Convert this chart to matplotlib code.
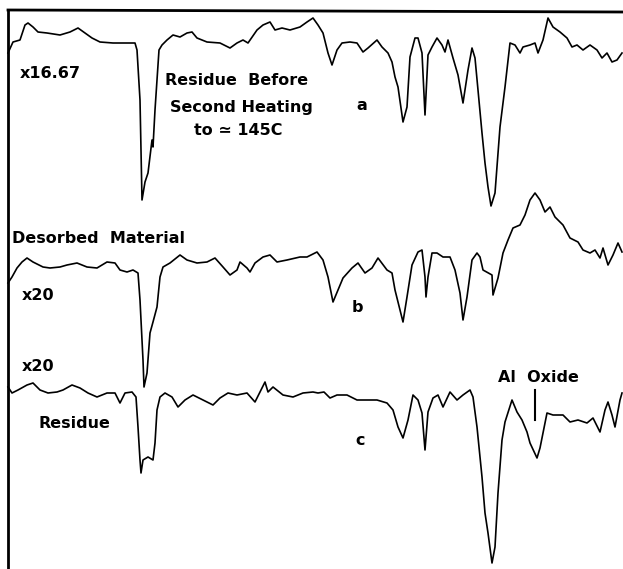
import matplotlib
matplotlib.use("Agg")
import matplotlib.pyplot as plt

# Traces (x = scan position, y = pen position, down is positive)
a_x = [8, 13, 20, 25, 28, 33, 38, 47, 60, 70, 78, 85, 92, 100, 113, 127, 135,
       137, 140, 142, 145, 148, 152, 153, 155, 159, 162,
       167, 173, 180, 187, 192, 197, 207, 220, 230, 237, 243, 248, 257, 263, 270, 275, 282, 290, 300,
       307, 313, 318, 323, 328, 332, 337, 342, 350, 357, 363, 368, 377, 382, 388, 392, 395, 398,
       403, 407, 410, 415, 418, 422, 425, 428, 432, 437, 442, 445, 448, 453, 458, 463, 468, 472,
       475, 478, 482, 485, 488, 491, 495, 500, 505, 510, 515, 520, 523, 530, 535, 538, 543, 548,
       553, 560, 567, 572, 577, 583, 590, 597, 602, 607, 612, 617, 622]
a_y = [53, 42, 40, 25, 23, 27, 32, 33, 35, 32, 28, 33, 38, 42, 43, 43, 43,
       50, 100, 200, 182, 173, 140, 147, 110, 50, 45,
       40, 35, 37, 33, 32, 38, 42, 43, 48, 43, 40, 43, 30, 25, 22, 30, 28, 30, 27,
       22, 18, 25, 33, 53, 65, 50, 43, 42, 43, 52, 48, 40, 47, 53, 62, 77, 87,
       122, 107, 57, 38, 38, 53, 115, 55, 47, 38, 45, 52, 40, 58, 75, 103, 70, 48,
       58, 90, 133, 163, 187, 206, 193, 127, 87, 43, 45, 53, 47, 45, 43, 53, 40, 18,
       27, 32, 38, 47, 45, 50, 45, 50, 58, 53, 62, 60, 53]

b_x = [8, 12, 17, 22, 27, 33, 43, 50, 60, 67, 77, 87, 97, 107, 115, 120, 127, 133, 138,
       140, 143, 144, 147, 150, 153, 157, 160, 163, 170, 180, 187, 197, 207, 215, 223, 230,
       237, 240, 247, 250, 255, 263, 270, 277, 287, 300, 307, 317, 323, 328, 333, 338, 343,
       352, 358, 365, 372, 378, 387, 392, 395, 397, 403, 407, 412, 418, 422, 425, 426, 428,
       432, 437, 443, 450, 455, 460, 463, 467, 472, 477, 480, 483, 492, 493, 498, 503, 508,
       513, 520, 525, 530, 535, 540, 545, 550, 555, 563, 570, 578, 583, 590, 595, 600, 603,
       608, 613, 618, 622]
b_y = [283, 277, 268, 262, 258, 262, 267, 268, 267, 265, 263, 267, 268, 262, 263, 270, 272, 270, 273,
       300, 360, 387, 373, 333, 322, 307, 277, 267, 263, 255, 260, 263, 262, 258, 267, 275,
       270, 262, 268, 272, 263, 257, 255, 262, 260, 257, 257, 252, 260, 277, 302, 290, 278,
       268, 263, 273, 268, 258, 270, 273, 290, 298, 322, 297, 265, 252, 250, 277, 297, 277,
       253, 253, 257, 257, 270, 293, 320, 297, 260, 253, 257, 270, 275, 295, 278, 253, 240,
       228, 225, 215, 200, 193, 200, 212, 207, 217, 225, 238, 242, 250, 253, 250, 258, 248,
       265, 255, 243, 252]

c_x = [8, 12, 18, 27, 33, 40, 48, 57, 63, 72, 80, 88, 97, 107, 115, 120, 125, 132, 136,
       138, 140, 141, 143, 148, 153, 155, 157, 160, 165, 172, 178, 185, 193, 203, 213, 220,
       228, 237, 247, 255, 260, 265, 268, 273, 283, 293, 303, 313, 318, 324, 330, 337, 347,
       357, 367, 377, 387, 393, 398, 403, 408, 413, 418, 422, 425, 428, 433, 438, 443, 450,
       457, 463, 470, 473, 477, 482, 485, 488, 492, 495, 498, 502, 505, 512, 517, 522, 527,
       530, 537, 540, 547, 553, 563, 570, 578, 587, 593, 600, 605, 608, 612, 615, 620, 622]
c_y = [387, 393, 390, 385, 383, 390, 393, 392, 390, 385, 388, 393, 397, 393, 393, 403, 393, 392, 397,
       427, 460, 473, 460, 457, 460, 443, 410, 397, 393, 397, 407, 400, 395, 400, 405, 398,
       393, 395, 393, 402, 392, 382, 392, 387, 395, 397, 393, 392, 393, 392, 398, 395, 395,
       400, 400, 400, 403, 410, 427, 438, 420, 395, 400, 413, 450, 412, 398, 395, 407, 392,
       400, 395, 390, 397, 427, 477, 513, 533, 563, 547, 493, 440, 422, 400, 412, 420, 432,
       443, 458, 448, 413, 415, 415, 422, 420, 423, 418, 432, 410, 402, 415, 427, 400, 393]

# Labels and where they sit
text_labels = ["x16.67", "Residue  Before", "Second Heating", "to \u2243 145C", "a",
               "Desorbed  Material", "x20", "b", "x20", "Residue", "c", "Al  Oxide"]
text_x = [20, 237, 241, 238, 362, 12, 22, 357, 22, 38, 360, 538]
text_y = [73, 80, 107, 130, 105, 238, 295, 307, 366, 423, 440, 377]
text_ha = ["left", "center", "center", "center", "center", "left", "left", "center",
           "left", "left", "center", "center"]

fig = plt.figure(figsize=(6.23, 5.69), dpi=100)
ax = fig.add_axes([0, 0, 1, 1])
ax.set_xlim(0, 623)
ax.set_ylim(569, 0)
ax.axis("off")

for xs, ys in [(a_x, a_y), (b_x, b_y), (c_x, c_y)]:
    ax.plot(xs, ys, color="black", linewidth=1.2, solid_joinstyle="round")

# frame of the original chart recorder paper
ax.plot([8, 623], [10, 12], color="black", linewidth=2)
ax.plot([8, 8], [10, 569], color="black", linewidth=2)

# Al oxide marker
ax.plot([535, 535], [390, 420], color="black", linewidth=1.5)

for label, x, y, ha in zip(text_labels, text_x, text_y, text_ha):
    ax.text(x, y, label, ha=ha, va="center", fontsize=11.5, fontweight="bold",
            family="DejaVu Sans")

fig.savefig("out.png", dpi=100)
